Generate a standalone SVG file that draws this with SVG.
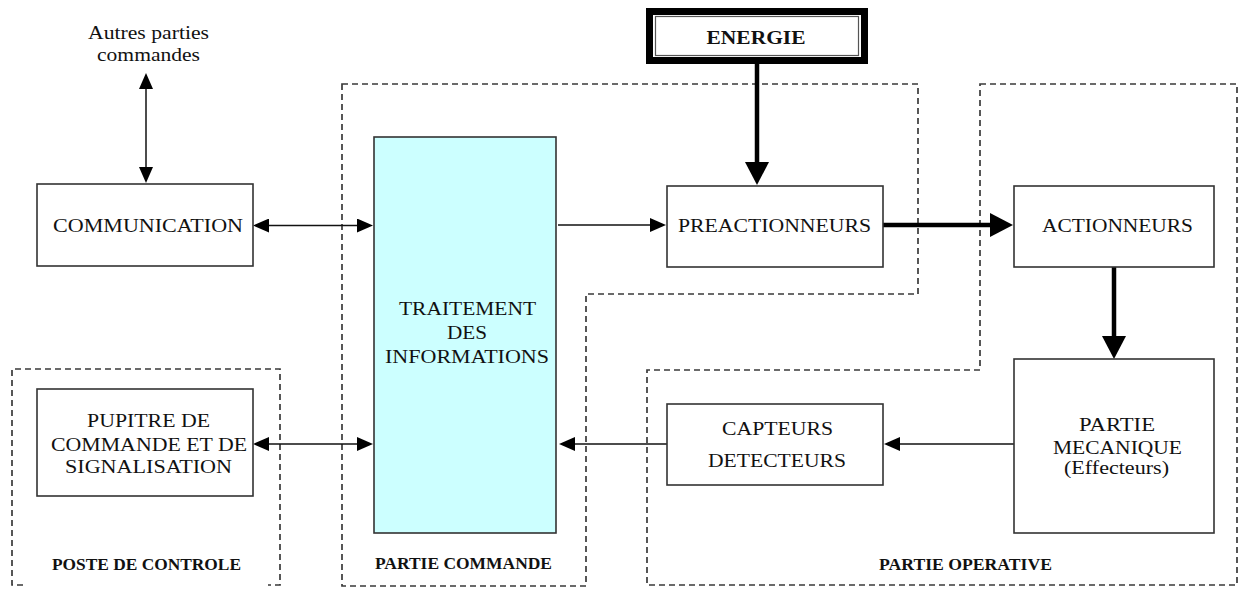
<svg xmlns="http://www.w3.org/2000/svg" width="1245" height="603" viewBox="0 0 1245 603">
  <style>
    .box { fill: #ffffff; stroke: #333333; stroke-width: 1.6; }
    .proc { fill: #ccffff; stroke: #333333; stroke-width: 1.6; }
    .zone { fill: none; stroke: #3a3a3a; stroke-width: 1.7; stroke-dasharray: 6 4; }
    .t { font-family: "Liberation Serif", "Times New Roman", serif; font-size: 19.5px; fill: #111111; text-anchor: middle; }
    .lbl { font-family: "Liberation Serif", "Times New Roman", serif; font-size: 17px; font-weight: bold; fill: #111111; text-anchor: middle; }
    .thin { fill: none; stroke: #111111; stroke-width: 1.5; }
    .thick { fill: none; stroke: #000000; stroke-width: 4.5; }
  </style>
  <defs>
    <marker id="head" viewBox="0 0 16 14" refX="1" refY="7" markerWidth="16" markerHeight="14" markerUnits="userSpaceOnUse" orient="auto-start-reverse">
      <path d="M0,0 L16,7 L0,14 z" fill="#000000"/>
    </marker>
    <marker id="headBig" viewBox="0 0 23 24" refX="1" refY="12" markerWidth="23" markerHeight="24" markerUnits="userSpaceOnUse" orient="auto-start-reverse">
      <path d="M0,0 L23,12 L0,24 z" fill="#000000"/>
    </marker>
  </defs>

  <rect width="1245" height="603" fill="#ffffff"/>

  <!-- dashed zones -->
  <g id="zones">
    <g id="zone-poste">
      <path class="zone" d="M23,585 L12,585 L12,369 L280,369 L280,585 L268,585"/>
      <text class="lbl" x="146.5" y="570" textLength="189" lengthAdjust="spacingAndGlyphs">POSTE DE CONTROLE</text>
    </g>
    <g id="zone-commande">
      <path class="zone" d="M342,84 L918,84 L918,294 L586,294 L586,586 L342,586 Z"/>
      <text class="lbl" x="463.5" y="569" textLength="177" lengthAdjust="spacingAndGlyphs">PARTIE COMMANDE</text>
    </g>
    <g id="zone-operative">
      <path class="zone" d="M980,84 L1237,84 L1237,585 L647,585 L647,370 L980,370 Z"/>
      <text class="lbl" x="965.5" y="570" textLength="173" lengthAdjust="spacingAndGlyphs">PARTIE OPERATIVE</text>
    </g>
  </g>

  <!-- connectors -->
  <g id="connectors">
    <path class="thin" d="M146,88 L146,168" marker-start="url(#head)" marker-end="url(#head)"/>
    <path class="thin" d="M268,225.5 L358,225.5" marker-start="url(#head)" marker-end="url(#head)"/>
    <path class="thin" d="M558,225 L651,225" marker-end="url(#head)"/>
    <path class="thin" d="M268,444 L358,444" marker-start="url(#head)" marker-end="url(#head)"/>
    <path class="thin" d="M1014,444 L899,444" marker-end="url(#head)"/>
    <path class="thin" d="M667,444 L574,444" marker-end="url(#head)"/>
    <path class="thick" d="M757,64 L757,163" marker-end="url(#headBig)"/>
    <path class="thick" d="M883,225 L991,225" marker-end="url(#headBig)"/>
    <path class="thick" d="M1114,267 L1114,337" marker-end="url(#headBig)"/>
  </g>

  <!-- free label -->
  <g id="autres">
    <text class="t" x="148.5" y="39" textLength="121" lengthAdjust="spacingAndGlyphs">Autres parties</text>
    <text class="t" x="148.5" y="61" textLength="103" lengthAdjust="spacingAndGlyphs">commandes</text>
  </g>

  <g id="energie">
    <rect x="649.5" y="11.5" width="215" height="49" fill="#ffffff" stroke="#000000" stroke-width="7"/>
    <rect x="655.5" y="16.5" width="203" height="39" fill="#ffffff" stroke="#555555" stroke-width="1.2"/>
    <text class="t" x="756" y="44" font-size="20" font-weight="bold" textLength="99" lengthAdjust="spacingAndGlyphs">ENERGIE</text>
  </g>

  <g id="communication">
    <rect class="box" x="37" y="184" width="216" height="82"/>
    <text class="t" x="148" y="232" textLength="190" lengthAdjust="spacingAndGlyphs">COMMUNICATION</text>
  </g>

  <g id="traitement">
    <rect class="proc" x="374" y="137" width="182" height="396"/>
    <text class="t" x="467.5" y="315" textLength="137" lengthAdjust="spacingAndGlyphs">TRAITEMENT</text>
    <text class="t" x="467" y="339" textLength="40" lengthAdjust="spacingAndGlyphs">DES</text>
    <text class="t" x="467" y="363" textLength="164" lengthAdjust="spacingAndGlyphs">INFORMATIONS</text>
  </g>

  <g id="preactionneurs">
    <rect class="box" x="667" y="186" width="216" height="81"/>
    <text class="t" x="774.5" y="232" textLength="193" lengthAdjust="spacingAndGlyphs">PREACTIONNEURS</text>
  </g>

  <g id="actionneurs">
    <rect class="box" x="1014" y="186" width="200" height="81"/>
    <text class="t" x="1117.5" y="232" textLength="151" lengthAdjust="spacingAndGlyphs">ACTIONNEURS</text>
  </g>

  <g id="partie-mecanique">
    <rect class="box" x="1014" y="359" width="200" height="174"/>
    <text class="t" x="1117" y="431" textLength="76" lengthAdjust="spacingAndGlyphs">PARTIE</text>
    <text class="t" x="1117.5" y="454" textLength="129" lengthAdjust="spacingAndGlyphs">MECANIQUE</text>
    <text class="t" x="1116.5" y="474" textLength="105" lengthAdjust="spacingAndGlyphs">(Effecteurs)</text>
  </g>

  <g id="capteurs">
    <rect class="box" x="667" y="404" width="216" height="81"/>
    <text class="t" x="777.5" y="435" textLength="111" lengthAdjust="spacingAndGlyphs">CAPTEURS</text>
    <text class="t" x="777" y="467" textLength="138" lengthAdjust="spacingAndGlyphs">DETECTEURS</text>
  </g>

  <g id="pupitre">
    <rect class="box" x="37" y="389" width="216" height="107"/>
    <text class="t" x="148.5" y="427" textLength="123" lengthAdjust="spacingAndGlyphs">PUPITRE DE</text>
    <text class="t" x="149" y="451" textLength="196" lengthAdjust="spacingAndGlyphs">COMMANDE ET DE</text>
    <text class="t" x="148.5" y="473" textLength="167" lengthAdjust="spacingAndGlyphs">SIGNALISATION</text>
  </g>
</svg>
